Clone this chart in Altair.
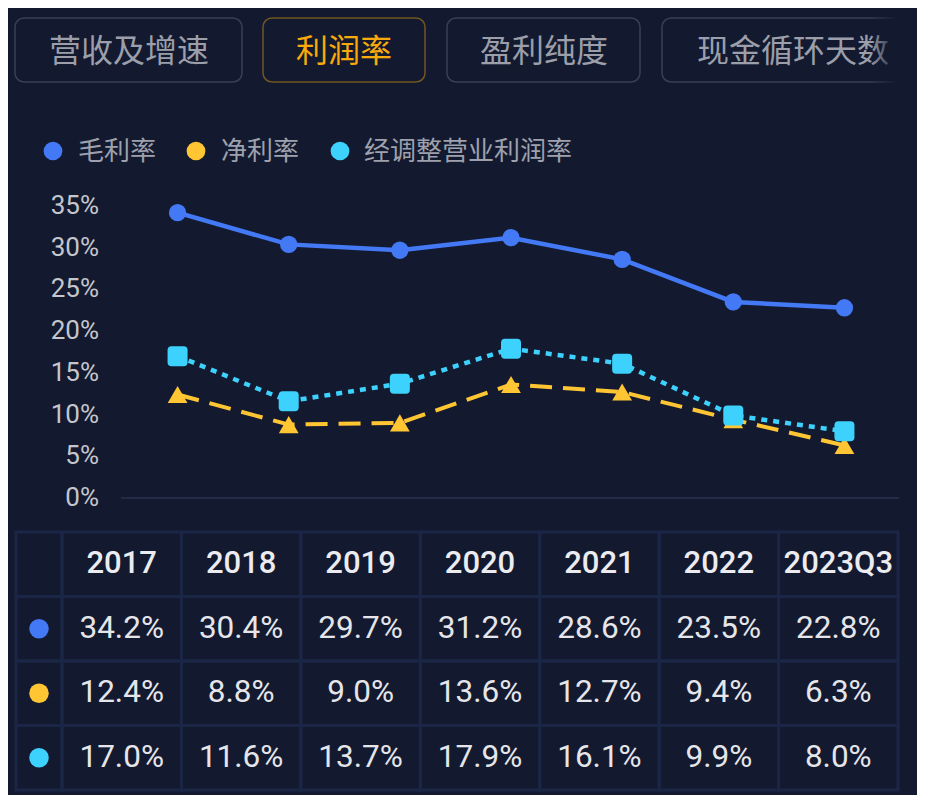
import altair as alt
import pandas as pd

# ---------------- data ----------------
periods = ["2017", "2018", "2019", "2020", "2021", "2022", "2023Q3"]
series_names = ["毛利率", "净利率", "经调整营业利润率"]
gross_margin = [34.2, 30.4, 29.7, 31.2, 28.6, 23.5, 22.8]
net_margin = [12.4, 8.8, 9.0, 13.6, 12.7, 9.4, 6.3]
adj_op_margin = [17.0, 11.6, 13.7, 17.9, 16.1, 9.9, 8.0]
tab_labels = ["营收及增速", "利润率", "盈利纯度", "现金循环天数"]
active_tab = "利润率"
y_ticks = [0, 5, 10, 15, 20, 25, 30, 35]

# ---------------- style / layout ----------------
BG = "#131a30"
GRID = "#1b2646"
COLORS = ["#4479f6", "#ffc533", "#3dd2fd"]
CJK = "Noto Sans CJK SC"
NUM = "Roboto"

tab_x0 = [7, 255, 439, 654]
tab_x1 = [234, 417, 632, 950]
tab_xc = [121, 336, 536, 785]
legend_cx = [45, 188, 332]
legend_tx = [70, 213, 356]

yscale = alt.Scale(domain=[0, 35], range=[490, 198], nice=False, zero=False)
xscale = alt.Scale(type="point", domain=periods, range=[114, 892], padding=0.5)
col_scale = alt.Scale(type="band", domain=periods, range=[54, 890], paddingInner=0, paddingOuter=0)
row_keys = ["h", "r0", "r1", "r2"]
row_scale = alt.Scale(type="band", domain=row_keys, range=[524, 782], paddingInner=0, paddingOuter=0)

series_values = [gross_margin, net_margin, adj_op_margin]

# ---------------- tabs ----------------
tab_df = pd.DataFrame({
    "label": tab_labels,
    "x0": tab_x0, "x1": tab_x1, "xc": tab_xc,
    "active": [t == active_tab for t in tab_labels],
})
tab_rect = alt.Chart(tab_df).mark_rect(cornerRadius=9, fill=BG, strokeWidth=1.5).encode(
    x=alt.X("x0:Q", scale=None, axis=None),
    x2="x1:Q",
    y=alt.value(10),
    y2=alt.value(74),
    stroke=alt.condition("datum.active", alt.value("#71561f"), alt.value("#394055")),
)
tab_text = alt.Chart(tab_df).mark_text(font=CJK, fontSize=32, align="center", baseline="middle").encode(
    x=alt.X("xc:Q", scale=None, axis=None),
    y=alt.value(44),
    text="label:N",
    color=alt.condition("datum.active", alt.value("#f8aa0c"), alt.value("#9c9fa9")),
)
fade = alt.Chart(pd.DataFrame({"k": [0]})).mark_rect(
    color=alt.LinearGradient(
        gradient="linear",
        stops=[
            alt.GradientStop(color="rgba(19,26,48,0)", offset=0),
            alt.GradientStop(color=BG, offset=0.6),
            alt.GradientStop(color=BG, offset=1),
        ],
        x1=0, x2=1, y1=0, y2=0,
    )
).encode(x=alt.value(862), x2=alt.value(909), y=alt.value(0), y2=alt.value(90))

# ---------------- legend ----------------
leg_df = pd.DataFrame({"name": series_names, "cx": legend_cx, "tx": legend_tx, "color": COLORS})
leg_dot = alt.Chart(leg_df).mark_circle(size=350, opacity=1).encode(
    x=alt.X("cx:Q", scale=None, axis=None),
    y=alt.value(143),
    color=alt.Color("color:N", scale=None, legend=None),
)
leg_text = alt.Chart(leg_df).mark_text(font=CJK, fontSize=26, align="left", baseline="middle", color="#9ea1ad").encode(
    x=alt.X("tx:Q", scale=None, axis=None),
    y=alt.value(144),
    text="name:N",
)

# ---------------- y labels & baseline ----------------
ytick_df = pd.DataFrame({"v": y_ticks, "lab": [f"{t}%" for t in y_ticks]})
ylab = alt.Chart(ytick_df).mark_text(font=NUM, fontSize=26, align="right", baseline="middle", color="#c5c6cc").encode(
    x=alt.value(91),
    y=alt.Y("v:Q", scale=yscale, axis=None),
    text="lab:N",
)
base_rule = alt.Chart(pd.DataFrame({"v": [0]})).mark_rule(color="#222a46", strokeWidth=2).encode(
    y=alt.Y("v:Q", scale=yscale, axis=None),
    x=alt.value(113),
    x2=alt.value(891),
)

# ---------------- lines ----------------
def sdf(vals):
    return pd.DataFrame({"period": periods, "value": vals})

X = alt.X("period:N", scale=xscale, axis=None, sort=periods)
Y = alt.Y("value:Q", scale=yscale, axis=None)

net_line = alt.Chart(sdf(net_margin)).mark_line(color=COLORS[1], strokeWidth=4, strokeDash=[22, 11]).encode(x=X, y=Y)
net_pts = alt.Chart(sdf(net_margin)).mark_point(shape="triangle-up", filled=True, size=390, opacity=1, color=COLORS[1]).encode(x=X, y=Y)

rounded_sq = "M-1,-0.6 Q-1,-1 -0.6,-1 L0.6,-1 Q1,-1 1,-0.6 L1,0.6 Q1,1 0.6,1 L-0.6,1 Q-1,1 -1,0.6 Z"
adj_line = alt.Chart(sdf(adj_op_margin)).mark_line(color=COLORS[2], strokeWidth=4.5, strokeDash=[6, 6]).encode(x=X, y=Y)
adj_pts = alt.Chart(sdf(adj_op_margin)).mark_point(shape=rounded_sq, filled=True, size=400, opacity=1, color=COLORS[2]).encode(x=X, y=Y)

gross_line = alt.Chart(sdf(gross_margin)).mark_line(color=COLORS[0], strokeWidth=4.5).encode(x=X, y=Y)
gross_pts = alt.Chart(sdf(gross_margin)).mark_point(shape="circle", filled=True, size=300, opacity=1, color=COLORS[0]).encode(x=X, y=Y)

# ---------------- table ----------------
cell_df = pd.DataFrame([{"period": p, "row": r} for r in row_keys for p in periods])
cells = alt.Chart(cell_df).mark_rect(fillOpacity=0, stroke=GRID, strokeWidth=3).encode(
    x=alt.X("period:N", scale=col_scale, axis=None, sort=periods),
    y=alt.Y("row:N", scale=row_scale, axis=None, sort=row_keys),
)
first_df = pd.DataFrame({"row": row_keys})
first_cells = alt.Chart(first_df).mark_rect(fillOpacity=0, stroke=GRID, strokeWidth=3).encode(
    x=alt.value(8), x2=alt.value(54),
    y=alt.Y("row:N", scale=row_scale, axis=None, sort=row_keys),
)
head_df = pd.DataFrame({"period": periods, "row": ["h"] * len(periods)})
head_text = alt.Chart(head_df).mark_text(font=NUM, fontSize=31, fontWeight=500, color="#ececf0", baseline="middle").encode(
    x=alt.X("period:N", scale=col_scale, axis=None, sort=periods),
    y=alt.Y("row:N", scale=row_scale, axis=None, sort=row_keys),
    text="period:N",
)
val_rows = []
for i, vals in enumerate(series_values):
    for p, v in zip(periods, vals):
        val_rows.append({"period": p, "row": row_keys[i + 1], "txt": f"{v:.1f}%"})
val_df = pd.DataFrame(val_rows)
val_text = alt.Chart(val_df).mark_text(font=NUM, fontSize=31.5, color="#e6e6ea", baseline="middle").encode(
    x=alt.X("period:N", scale=col_scale, axis=None, sort=periods),
    y=alt.Y("row:N", scale=row_scale, axis=None, sort=row_keys),
    text="txt:N",
)
dot_df = pd.DataFrame({"row": row_keys[1:], "color": COLORS})
row_dots = alt.Chart(dot_df).mark_circle(size=380, opacity=1).encode(
    x=alt.value(31),
    y=alt.Y("row:N", scale=row_scale, axis=None, sort=row_keys),
    color=alt.Color("color:N", scale=None, legend=None),
)

chart = alt.layer(
    tab_rect, tab_text, fade,
    leg_dot, leg_text,
    base_rule, ylab,
    net_line, adj_line, net_pts, adj_pts, gross_line, gross_pts,
    cells, first_cells, head_text, val_text, row_dots,
).resolve_scale(
    x="independent", y="independent", color="independent"
).properties(
    width=909, height=787,
    autosize=alt.AutoSizeParams(type="none"),
    padding=0,
    background=BG,
).configure_view(stroke=None)

chart.save("out.html", embed_options={"renderer": "svg", "actions": False})
